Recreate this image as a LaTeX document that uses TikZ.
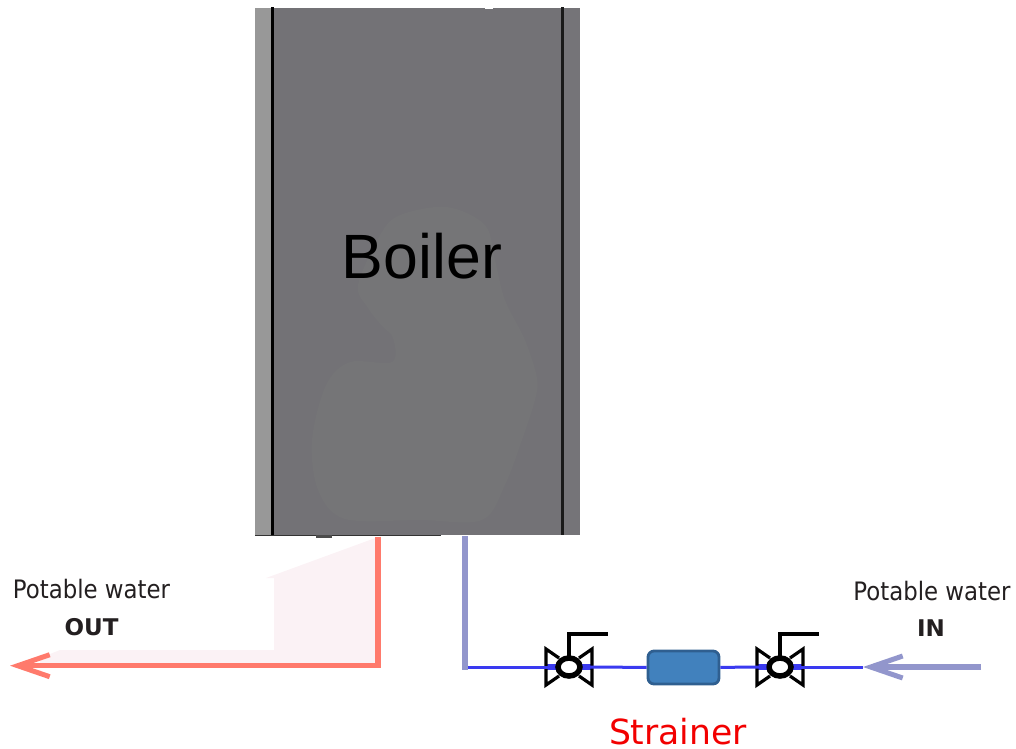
\documentclass[tikz,border=0pt]{standalone}
\usepackage{fontspec}
\setmainfont{DejaVu Sans}
\newfontfamily\boilerfont{Liberation Sans}
\newfontfamily\condfont{DejaVu Sans Condensed}
\usetikzlibrary{arrows.meta,shapes.geometric}
\definecolor{bodygrey}{HTML}{737276}
\definecolor{blobgrey}{HTML}{757577}
\definecolor{leftgrey}{HTML}{989898}
\definecolor{rightgrey}{HTML}{757478}
\definecolor{hotred}{HTML}{FF7A6C}
\definecolor{palepink}{HTML}{FBF2F5}
\definecolor{coldpipe}{HTML}{9296CC}
\definecolor{linkblue}{HTML}{3A3AF0}
\definecolor{strainfill}{HTML}{4181BD}
\definecolor{strainedge}{HTML}{2F5F90}
\definecolor{labeltext}{HTML}{231F20}
\tikzset{
  hotpipe/.style={draw=hotred,line width=5.5pt},
  coldline/.style={draw=coldpipe,line width=5.5pt},
  thinblue/.style={draw=linkblue,line width=3pt},
  valvering/.style={ellipse,draw=black,fill=white,line width=5.5pt,minimum width=22pt,minimum height=18pt,inner sep=0pt},
  valveline/.style={draw=black,line width=3.2pt,line join=miter},
  strainerbox/.style={draw=strainedge,fill=strainfill,line width=2.8pt,rounded corners=6pt,minimum width=71pt,minimum height=33pt,inner sep=0pt},
  lab/.style={text=labeltext,inner sep=0pt,anchor=base},
  valvebody/.pic={
    \draw[linkblue,line width=6pt] (-23,0) -- (23,0);
    \draw[valveline] (-10,-9) -- (-23,-18) -- (-23,18) -- (-10,9);
    \draw[valveline] (10,-9) -- (23,-18) -- (23,18) -- (10,9);
    \draw[valveline] (0,-10) -- (0,-33) -- (39,-33);
  }
}
\begin{document}
\begin{tikzpicture}[x=1pt,y=-1pt]
\useasboundingbox (0,0) rectangle (1016,748);
% boiler
\node[draw=none,fill=bodygrey,minimum width=325pt,minimum height=527pt,inner sep=0pt] (boiler) at (417.5,271.5) {};
\fill[leftgrey] (255,8) rectangle (272,535);
\fill[rightgrey] (563,8) rectangle (580,535);
\fill[blobgrey] plot[smooth cycle,tension=0.55] coordinates {(447,207) (400,215) (380,235) (358,285) (368,308) (382,326) (393,338) (392,362) (350,362) (326,385) (312,440) (318,490) (345,519) (420,520) (482,520) (505,485) (522,440) (535,400) (537,378) (525,340) (505,300) (495,260) (485,225)};
\draw[black,line width=2.2pt] (272.5,7) -- (272.5,535);
\draw[black!90,line width=2.4pt] (562.5,7) -- (562.5,535);
\draw[black!80,line width=1.4pt] (255,535.4) -- (441,535.4);
\fill[black!70] (316,535) rectangle (332,537.5);
\fill[white] (485,8) rectangle (493,9);
\node[inner sep=0pt,anchor=base,text=black,font=\boilerfont\fontsize{62.6}{70}\selectfont] (boilerlabel) at (422,278) {Boiler};
% hot water
\fill[palepink] (378,537) -- (266,578) -- (274,578) -- (274,650) -- (60,650) -- (40,658) -- (40,664) -- (378,664) -- cycle;
\coordinate (hotout) at (378,536.5);
\coordinate (hotbend) at (378,665.7);
\coordinate (hotend) at (10,665.7);
\draw[hotpipe,line join=miter,-{Straight Barb[length=32pt,width=22pt,line width=5pt]}] (hotout) -- (hotbend) -- (hotend);
% cold water
\coordinate (coldin) at (465,536);
\coordinate (coldbend) at (465,667);
\coordinate (arrowstart) at (981,667);
\coordinate (arrowtip) at (863,667);
\path (569,667) pic {valvebody};
\path (780,667) pic {valvebody};
\node[valvering] (v1) at (569,667) {};
\node[valvering] (v2) at (780,667) {};
\node[strainerbox] (strainer) at (683.5,667.5) {};
\draw[thinblue] (coldbend) -- (v1);
\draw[thinblue] (v1) -- (strainer);
\draw[thinblue] (strainer) -- (v2);
\draw[thinblue] (v2) -- (arrowtip);
\draw[coldline,line cap=butt] (coldin) -- (465,669.5);
\draw[coldline,-{Straight Barb[length=32pt,width=22pt,line width=5pt]}] (arrowstart) -- (arrowtip);
% labels
\node[lab,font=\condfont\fontsize{25.4}{28}\selectfont] (outa) at (91.5,598) {Potable water};
\node[lab,font=\bfseries\fontsize{23}{26}\selectfont] (outb) at (91.5,635) {OUT};
\node[lab,font=\condfont\fontsize{25.4}{28}\selectfont] (ina) at (932,600) {Potable water};
\node[lab,font=\bfseries\fontsize{23}{26}\selectfont] (inb) at (931,636) {IN};
\node[inner sep=0pt,anchor=base,text=red!95!black,font=\fontsize{34.6}{38}\selectfont] (strainerlabel) at (678,744) {Strainer};
\end{tikzpicture}
\end{document}
